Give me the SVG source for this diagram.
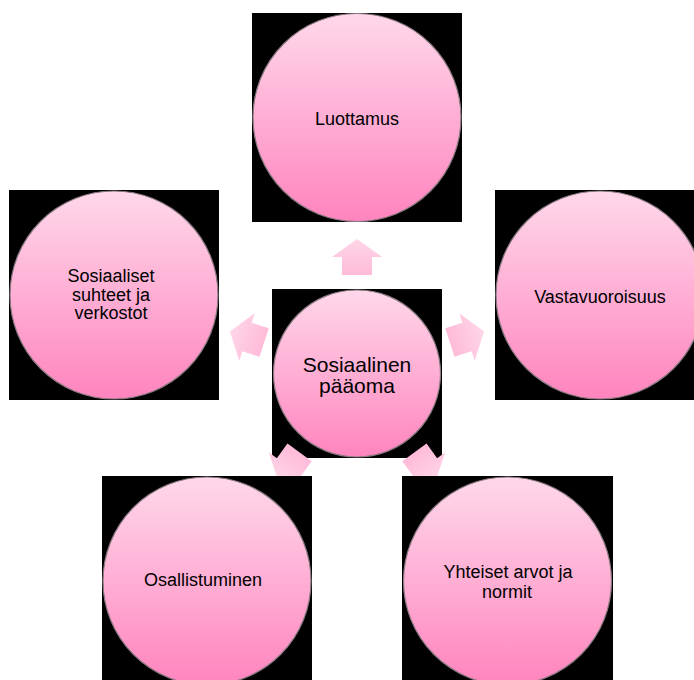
<svg xmlns="http://www.w3.org/2000/svg" width="694" height="680" viewBox="0 0 694 680">
<defs>
<linearGradient id="cg" x1="0" y1="0" x2="0" y2="1">
<stop offset="0" stop-color="#FFD8EA"/>
<stop offset="1" stop-color="#FF84BE"/>
</linearGradient>
<linearGradient id="ag" x1="0" y1="0" x2="0" y2="1">
<stop offset="0" stop-color="#FFD6E8"/>
<stop offset="1" stop-color="#FFBBD9"/>
</linearGradient>
<path id="arrow" d="M0,-18 L25,0 L15,0 L15,18 L-15,18 L-15,0 L-25,0 Z"/>
</defs>
<style>
.bg{fill:#000}
.c{fill:url(#cg);stroke:#8a7a82;stroke-width:1.2}
.a{fill:url(#ag)}
text{font-family:"Liberation Sans",Arial,sans-serif;font-size:18px;fill:#000;text-anchor:middle}
.big{font-size:21px}
</style>
<rect width="694" height="680" fill="#fff"/>
<g id="center">
<rect class="bg" x="272" y="289" width="170" height="169"/>
<circle class="c" cx="357" cy="373.5" r="83.5"/>
<text class="big" x="357" y="372">Sosiaalinen</text>
<text class="big" x="357" y="393">pääoma</text>
</g>
<g id="connectors">
<use href="#arrow" class="a" transform="translate(357,257)"/>
<use href="#arrow" class="a" transform="translate(467,337) rotate(72)"/>
<use href="#arrow" class="a" transform="translate(247,337) rotate(-72)"/>
<use href="#arrow" class="a" transform="translate(425,467) rotate(144)"/>
<use href="#arrow" class="a" transform="translate(289,467) rotate(-144)"/>
</g>
<g id="luottamus">
<rect class="bg" x="252" y="13" width="210" height="209"/>
<circle class="c" cx="357" cy="117.5" r="104"/>
<text x="357" y="125">Luottamus</text>
</g>
<g id="vastavuoroisuus">
<rect class="bg" x="495" y="190" width="210" height="210"/>
<circle class="c" cx="600" cy="295" r="104"/>
<text x="600" y="303">Vastavuoroisuus</text>
</g>
<g id="sosiaaliset">
<rect class="bg" x="9" y="190" width="210" height="210"/>
<circle class="c" cx="114" cy="295" r="104"/>
<text x="111" y="282">Sosiaaliset</text>
<text x="111" y="300.5">suhteet ja</text>
<text x="111" y="319">verkostot</text>
</g>
<g id="osallistuminen">
<rect class="bg" x="102" y="476" width="210" height="210"/>
<circle class="c" cx="207" cy="581" r="104"/>
<text x="203" y="586">Osallistuminen</text>
</g>
<g id="yhteiset">
<rect class="bg" x="402" y="476" width="211" height="210"/>
<circle class="c" cx="507.5" cy="581" r="104"/>
<text x="508" y="578">Yhteiset arvot ja</text>
<text x="507" y="598">normit</text>
</g>
</svg>
